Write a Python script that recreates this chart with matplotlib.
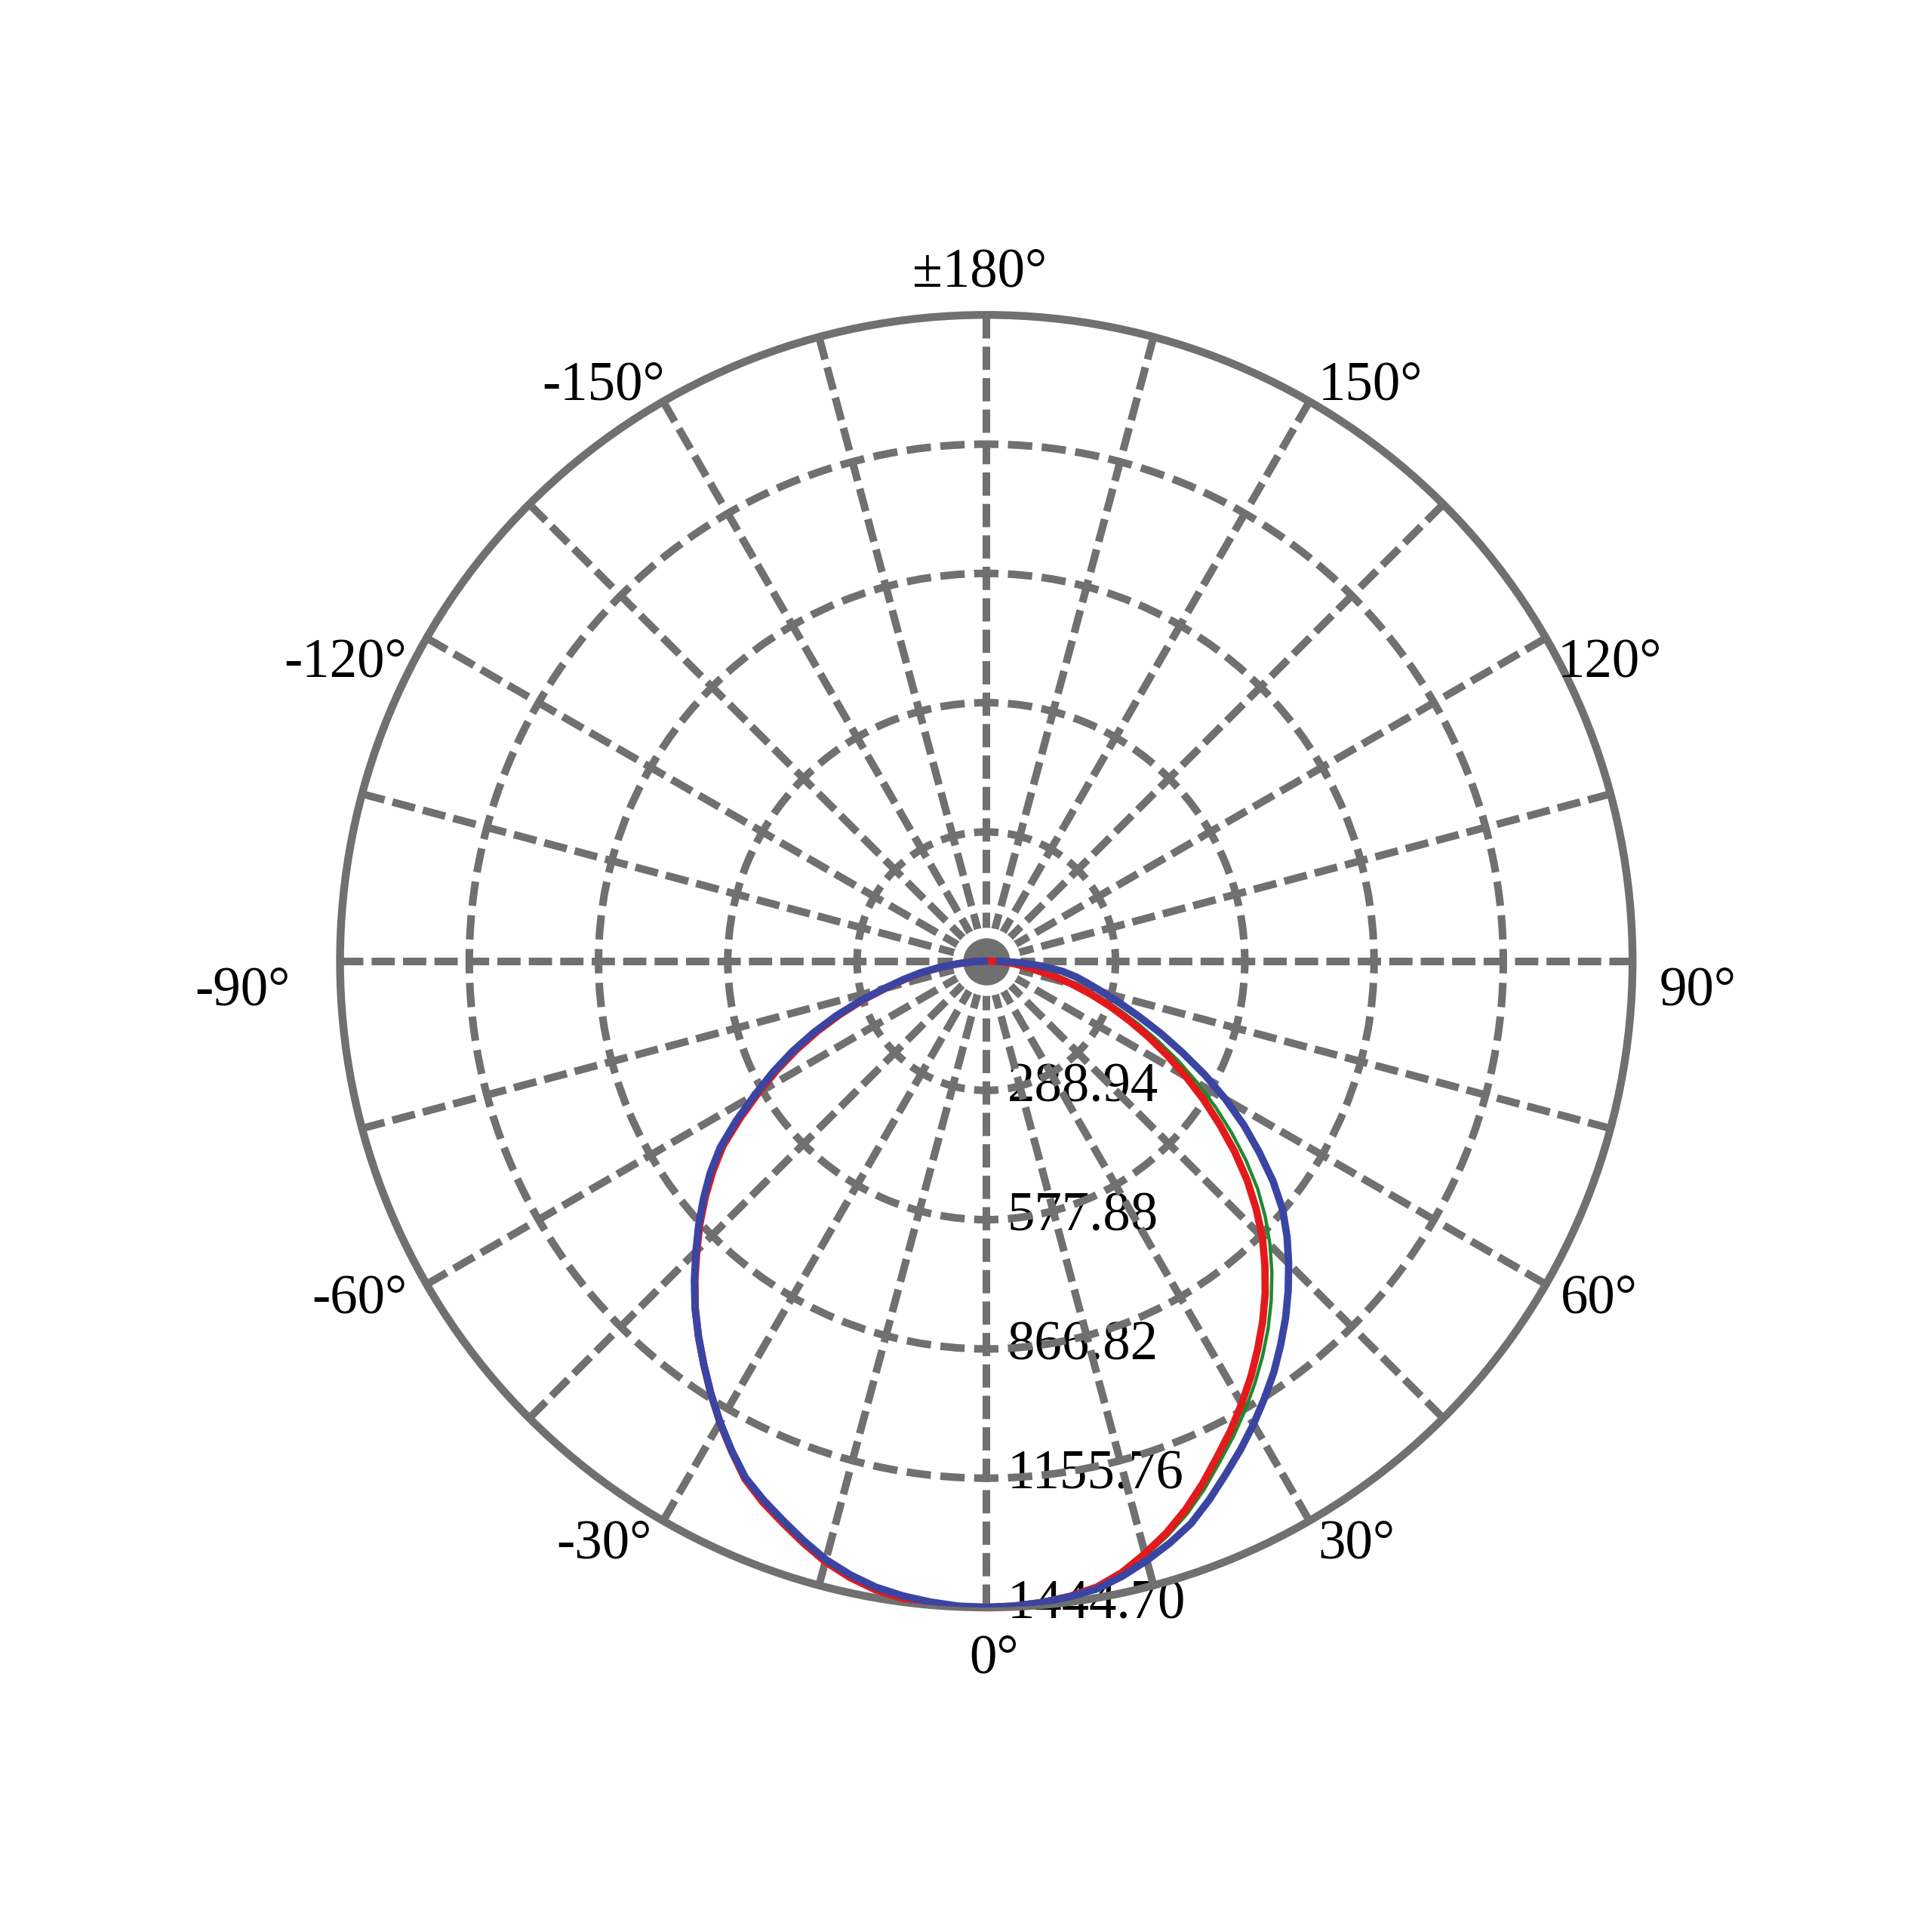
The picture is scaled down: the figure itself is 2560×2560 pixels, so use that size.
import numpy as np
import matplotlib
matplotlib.use("Agg")
import matplotlib.pyplot as plt

# 配光曲线 (极坐标), 0° 朝下, 每 2.5° 一个读数
angles = np.arange(-90, 90.1, 2.5)
green = [5, 29, 61, 102, 147, 188, 234, 292, 352, 413, 473, 533, 592, 657, 722, 774, 822, 870, 916,
         965, 1012, 1057, 1101, 1146, 1190, 1233, 1275, 1305, 1332, 1360, 1387, 1408, 1424, 1434, 1440,
         1444, 1444.7,
         1443, 1439, 1432, 1422, 1402, 1376, 1347, 1314, 1276, 1235, 1197, 1158, 1118, 1077, 1035, 991,
         945, 897, 846, 792, 732, 670, 608, 546, 485, 425, 369, 315, 266, 221, 177, 135, 100, 72, 42, 15]
red = [5, 28, 60, 100, 145, 186, 232, 290, 348, 408, 468, 528, 588, 652, 718, 770, 820, 868, 915,
       964, 1012, 1057, 1101, 1146, 1191, 1234, 1277, 1308, 1335, 1363, 1390, 1411, 1427, 1437, 1443,
       1444.7, 1444.7,
       1443, 1439, 1432, 1421, 1400, 1371, 1340, 1304, 1264, 1222, 1183, 1142, 1101, 1058, 1015, 970,
       922, 873, 818, 761, 700, 637, 576, 515, 456, 400, 345, 294, 245, 199, 153, 110, 83, 60, 33, 10]
blue = [5, 30, 62, 104, 149, 190, 236, 295, 357, 418, 479, 538, 597, 662, 726, 778, 825, 872, 918,
        966, 1013, 1057, 1101, 1146, 1190, 1233, 1274, 1303, 1330, 1358, 1385, 1405, 1421, 1431, 1438,
        1443, 1444.7,
        1443, 1439, 1433, 1425, 1408, 1387, 1364, 1338, 1303, 1266, 1231, 1195, 1158, 1121, 1081, 1041,
        999, 956, 912, 865, 808, 745, 683, 618, 551, 484, 423, 365, 315, 271, 235, 205, 170, 125, 75, 30]

rings = [288.94, 577.88, 866.82, 1155.76, 1444.70]
ring_labels = ['288.94', '577.88', '866.82', '1155.76', '1444.70']
theta_ticks = [0, 30, 60, 90, 120, 150, 180, 210, 240, 270, 300, 330]
theta_labels = ['0°', '30°', '60°', '90°', '120°', '150°', '±180°', '-150°', '-120°', '-90°', '-60°', '-30°']
# 标签微调 (points)
label_shift = {0: (3, -1.5), 30: (-1, -1.5), 60: (-2, -1.5), 90: (1.5, -11.5), 120: (-3, -14),
               150: (-1, -1.5), 180: (-2.5, -2.5), 210: (5, -1.5), 240: (0, -14), 270: (-10.5, -11.5),
               300: (0, -1.5), 330: (0, -1.5)}

gray = '#707070'
rmax = rings[-1]
grid_lw = 2.9

plt.rcParams['font.family'] = ['Liberation Serif', 'DejaVu Serif']

fig = plt.figure(figsize=(10.24, 10.24), dpi=250)
ax_w = 0.669
ax = fig.add_axes([0.176, 0.168, ax_w, ax_w], projection='polar')
ax.set_theta_zero_location('S')
ax.set_theta_direction(1)
ax.set_ylim(0, rmax)

# 网格
ax.set_thetagrids(np.arange(0, 360, 15), labels=[''] * 24)
ax.set_rgrids(rings[:-1], labels=[''] * 4)
ax.grid(True, color=gray, linewidth=grid_lw)
ax.spines['polar'].set_color(gray)
ax.spines['polar'].set_linewidth(3.0)
ax.tick_params(axis='both', length=0)

# 虚线节奏: 径向线短划一直到外圈, 圆环短划落在径向线上
R_pt = ax_w * 10.24 * 72 / 2
step_pt = R_pt / len(rings)
per_pt = 12.0
on_pt = 0.74 * per_pt
start_pt = R_pt - on_pt - 19 * per_pt
off0 = ((-start_pt) % per_pt) / grid_lw
for gl in ax.xaxis.get_gridlines():
    gl.set_linestyle((off0, (on_pt / grid_lw, (per_pt - on_pt) / grid_lw)))
for k, tick in enumerate(ax.yaxis.get_major_ticks(), start=1):
    arc = k * step_pt * np.pi / 12
    n = max(1, round(arc / 12.0))
    per_r = arc / n / grid_lw
    on_r = 0.72 * per_r
    tick.gridline.set_linestyle((on_r / 2, (on_r, per_r - on_r)))

# 中心点
ax.plot([0], [0], marker='o', markersize=22, markerfacecolor=gray,
        markeredgecolor='white', markeredgewidth=4, zorder=2)

th = np.deg2rad(angles)
ax.plot(th, green, color='#1f8a2e', linewidth=1.3, zorder=3)
ax.plot(th, red, color='#e31a1c', linewidth=2.8, zorder=3)
ax.plot(th, blue, color='#3a45a3', linewidth=2.8, zorder=3)

# 角度标签
for t, lab in zip(theta_ticks, theta_labels):
    s = np.sin(np.deg2rad(t))
    c = np.cos(np.deg2rad(t))
    ha = 'left' if s > 0.1 else ('right' if s < -0.1 else 'center')
    va = 'top' if c > 0.9 else ('bottom' if c < -0.9 else 'center')
    ax.annotate(lab, xy=(np.deg2rad(t), rmax * 1.035), xytext=label_shift[t],
                textcoords='offset points', ha=ha, va=va, fontsize=21,
                annotation_clip=False)

# 径向标签
for r, lab in zip(rings, ring_labels):
    ax.annotate(lab, xy=(0, r), xytext=(8, 1), textcoords='offset points',
                ha='left', va='center', fontsize=21, zorder=1,
                annotation_clip=False)

fig.savefig('out.png', dpi=250, facecolor='white')
